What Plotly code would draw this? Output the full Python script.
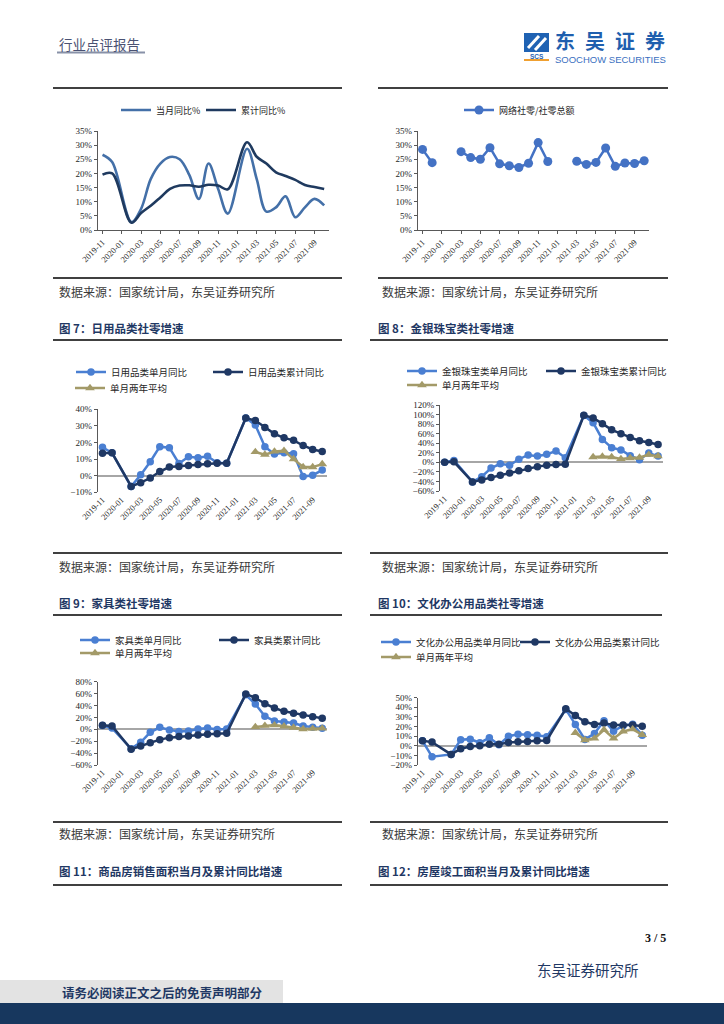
import plotly.graph_objects as go

W, H = 724, 1024

# ---------------- data ----------------
months = ['2019-11', '2019-12', '2020-01', '2020-02', '2020-03', '2020-04', '2020-05', '2020-06',
          '2020-07', '2020-08', '2020-09', '2020-10', '2020-11', '2020-12', '2021-01', '2021-02',
          '2021-03', '2021-04', '2021-05', '2021-06', '2021-07', '2021-08', '2021-09', '2021-10']
tick_months = months[::2]

online_month = [26.6, 24.0, None, 2.8, 7.5, 18.0, 23.5, 25.8, 25.0, 19.5, 11.0, 23.5,
                14.5, 5.8, None, 28.7, 18.0, 6.5, 8.0, 11.9, 4.5, 8.0, 11.0, 8.7]
online_cum = [19.6, 20.0, None, 2.6, 6.0, 8.6, 11.5, 14.5, 15.7, 15.8, 15.3, 16.0,
              15.7, 14.4, None, 31.0, 25.9, 23.5, 20.4, 19.1, 17.7, 15.9, 15.2, 14.5]

online_share = [28.5, 23.8, None, None, 27.7, 25.6, 25.0, 29.1, 23.4, 22.7, 22.1, 23.6,
                30.9, 24.2, None, None, 24.3, 23.2, 23.9, 29.0, 22.5, 23.7, 23.5, 24.5]

daily_month = [17.1, 13.8, None, -6.5, 0.5, 8.4, 17.5, 16.9, 7.4, 11.4, 10.8, 11.7,
               7.8, 7.5, None, 34.8, 30.5, 17.4, 13.0, 13.9, 13.2, -0.5, 0.3, 3.4]
daily_cum = [13.5, 13.8, None, -6.5, -4.2, -1.4, 2.5, 5.2, 5.6, 6.2, 6.8, 7.2,
             7.5, 7.5, None, 34.8, 33.2, 29.0, 25.2, 22.8, 21.3, 18.2, 15.8, 14.6]
daily_avg2 = [None] * 16 + [14.3, 12.7, 14.6, 15.0, 10.0, 5.2, 5.2, 7.0]

jewel_month = [0.0, 4.0, None, -41.0, -30.0, -12.0, -3.0, -6.0, 6.5, 15.5, 13.0, 16.7,
               23.7, 9.8, None, 98.0, 83.0, 48.0, 30.7, 25.8, 14.0, 5.6, 19.5, 13.0]
jewel_cum = [0.0, 1.0, None, -41.0, -37.0, -32.0, -27.0, -22.5, -17.4, -13.0, -9.0, -6.0,
             -4.5, -4.0, None, 98.5, 93.0, 81.0, 68.0, 60.0, 52.0, 45.0, 41.5, 37.5]
jewel_avg2 = [None] * 16 + [11.0, 12.0, 11.0, 7.0, 9.0, 10.0, 16.0, 13.0]

furn_month = [6.2, 2.0, None, -32.5, -21.8, -5.0, 3.4, -1.0, -3.5, -3.0, 0.5, 2.0,
              -0.5, 0.5, None, 58.0, 42.5, 21.8, 14.0, 12.3, 10.6, 5.6, 3.4, 1.7]
furn_cum = [6.7, 5.6, None, -33.6, -28.0, -22.4, -17.4, -14.0, -12.3, -11.2, -9.5, -8.4,
            -7.3, -6.7, None, 59.4, 53.0, 43.0, 35.8, 30.2, 26.9, 24.0, 21.3, 18.5]
furn_avg2 = [None] * 16 + [4.0, 6.0, 7.0, 5.0, 3.0, 0.5, 1.0, 1.5]

office_month = [5.2, -11.4, None, -9.0, 6.2, 6.9, 3.1, 8.3, 1.0, 10.0, 12.0, 11.5,
                11.0, 9.4, None, 37.8, 22.2, 6.6, 12.8, 26.0, 15.2, 20.8, 22.5, 11.0]
office_cum = [5.2, 3.8, None, -9.0, -3.1, -0.7, 0.0, 1.7, 1.7, 3.5, 4.2, 4.5,
              5.2, 5.5, None, 38.5, 31.5, 25.0, 22.2, 23.6, 21.5, 21.5, 21.5, 20.4]
office_avg2 = [None] * 16 + [13.5, 5.9, 7.6, 16.6, 7.6, 14.9, 17.3, 11.4]

# ---------------- styles ----------------
CJK = "Noto Sans CJK SC"
SERIF = "Liberation Serif"
LIGHT = '#4a7fd2'
DARK = '#1f3864'
KHAKI = '#a39a68'
STEEL = '#4470a8'
NAVY1 = '#1f3a5f'
AXIS = '#595959'


def X(px):
    return px / W


def Y(py):
    return 1 - py / H


fig = go.Figure()

# panel geometry: (x0, x1, ytop, ybottom, yrange, dtick, bottom_axis_line)
panels = {
    1: (97.7, 329.0, 131.0, 230.0, [0, 35], 5, True),
    2: (417.7, 649.0, 131.0, 230.0, [0, 35], 5, True),
    3: (97.7, 327.0, 409.3, 492.3, [-10, 40], 10, False),
    4: (440.0, 662.7, 405.0, 491.0, [-60, 120], 20, False),
    5: (97.7, 327.0, 681.7, 765.0, [-60, 80], 20, False),
    6: (417.7, 647.0, 697.7, 765.0, [-20, 50], 10, False),
}


def add(panel, y, name, color, legend, mode='lines+markers', symbol='circle', size=7.5,
        shape='linear', gaps=True, width=2.5):
    sfx = '' if panel == 1 else str(panel)
    fig.add_trace(go.Scatter(
        x=months, y=y, name=name, mode=mode,
        line=dict(color=color, width=width, shape=shape),
        marker=dict(color=color, size=size, symbol=symbol),
        connectgaps=gaps, xaxis='x' + sfx, yaxis='y' + sfx,
        legend=legend, hoverinfo='skip'))


add(1, online_month, '当月同比%', STEEL, 'legend', mode='lines', shape='spline', width=2.6)
add(1, online_cum, '累计同比%', NAVY1, 'legend2', mode='lines', shape='spline', width=2.6)
add(2, online_share, '网络社零/社零总额', '#4472c4', 'legend3', gaps=False, size=9)
add(3, daily_month, '日用品类单月同比', LIGHT, 'legend4')
add(3, daily_cum, '日用品类累计同比', DARK, 'legend5')
add(3, daily_avg2, '单月两年平均', KHAKI, 'legend6', symbol='triangle-up', size=8.5)
add(4, jewel_month, '金银珠宝类单月同比', LIGHT, 'legend7')
add(4, jewel_cum, '金银珠宝类累计同比', DARK, 'legend8')
add(4, jewel_avg2, '单月两年平均', KHAKI, 'legend9', symbol='triangle-up', size=8.5)
add(5, furn_month, '家具类单月同比', LIGHT, 'legend10')
add(5, furn_cum, '家具类累计同比', DARK, 'legend11')
add(5, furn_avg2, '单月两年平均', KHAKI, 'legend12', symbol='triangle-up', size=8.5)
add(6, office_month, '文化办公用品类单月同比', LIGHT, 'legend13')
add(6, office_cum, '文化办公用品类累计同比', DARK, 'legend14')
add(6, office_avg2, '单月两年平均', KHAKI, 'legend15', symbol='triangle-up', size=8.5)

layout = dict(width=W, height=H, margin=dict(l=0, r=0, t=0, b=0, pad=0, autoexpand=False),
              paper_bgcolor='white', plot_bgcolor='white', showlegend=True)

for k, (x0, x1, yt, yb, yr, dt, bline) in panels.items():
    sfx = '' if k == 1 else str(k)
    layout['xaxis' + sfx] = dict(
        domain=[X(x0), X(x1)], anchor='y' + sfx, type='category',
        categoryorder='array', categoryarray=months, range=[-0.5, 23.5],
        tickmode='array', tickvals=tick_months, ticktext=tick_months, tickangle=-45,
        tickfont=dict(family=SERIF, size=8.5, color='#262626'),
        showline=bline, linecolor=AXIS, linewidth=1,
        ticks='outside' if bline else '', ticklen=3, tickcolor=AXIS,
        showgrid=False, zeroline=False, fixedrange=True, automargin=False)
    layout['yaxis' + sfx] = dict(
        domain=[Y(yb), Y(yt)], anchor='x' + sfx, range=yr, dtick=dt, tick0=0,
        ticksuffix='%', tickfont=dict(family=SERIF, size=9, color='#262626'),
        showline=True, linecolor=AXIS, linewidth=1, ticks='outside', ticklen=3,
        tickcolor=AXIS, showgrid=False, automargin=False,
        zeroline=not bline, zerolinecolor='#a6a6a6', zerolinewidth=1.5, fixedrange=True)

# legends (x of item start, y centre)
legend_pos = {
    'legend': (116, 110), 'legend2': (201, 110), 'legend3': (459, 110),
    'legend4': (71, 372), 'legend5': (208, 372), 'legend6': (70, 388),
    'legend7': (402, 371), 'legend8': (541, 371), 'legend9': (402, 385),
    'legend10': (75, 640), 'legend11': (214, 640), 'legend12': (75, 653),
    'legend13': (376, 642), 'legend14': (515, 642), 'legend15': (376, 657),
}
for name, (lx, ly) in legend_pos.items():
    layout[name] = dict(x=X(lx), y=Y(ly), xref='paper', yref='paper', xanchor='left',
                        yanchor='middle', orientation='h', bgcolor='rgba(0,0,0,0)',
                        borderwidth=0, itemwidth=30,
                        font=dict(family=CJK, size=9.5, color='#262626'))
layout['legend']['font']['size'] = 9
layout['legend2']['font']['size'] = 9
layout['legend3']['font']['size'] = 9

fig.update_layout(**layout)

# ---------------- page furniture ----------------
shapes = []


def hline(py, x0, x1, color='#404040', width=2):
    shapes.append(dict(type='line', xref='paper', yref='paper', x0=X(x0), x1=X(x1),
                       y0=Y(py), y1=Y(py), line=dict(color=color, width=width)))


for py in (88, 278):
    hline(py, 53, 342)
    hline(py, 378, 668)
for py in (340, 553, 822, 885):
    hline(py, 53, 342)
    hline(py, 370, 668)
hline(615, 53, 342)
hline(615, 370, 662)

# header underline
hline(52.5, 57, 145, color='#8891a8', width=2)

# logo icon
shapes.append(dict(type='rect', xref='paper', yref='paper', x0=X(524), x1=X(549),
                   y0=Y(52), y1=Y(33), fillcolor='#1f62b3', line=dict(width=0)))
shapes.append(dict(type='line', xref='paper', yref='paper', x0=X(528), x1=X(539),
                   y0=Y(48), y1=Y(36), line=dict(color='white', width=3)))
shapes.append(dict(type='line', xref='paper', yref='paper', x0=X(535), x1=X(546),
                   y0=Y(50), y1=Y(38), line=dict(color='white', width=3)))
hline(60, 524, 549, color='#f0a030', width=2)

# footer blocks
shapes.append(dict(type='rect', xref='paper', yref='paper', x0=0, x1=X(283),
                   y0=Y(1003), y1=Y(980), fillcolor='#e3e3e3', line=dict(width=0)))
shapes.append(dict(type='rect', xref='paper', yref='paper', x0=0, x1=1,
                   y0=0, y1=Y(1003), fillcolor='#17375e', line=dict(width=0)))

anns = []


def text(px, py, s, size=12, color='#333333', family=CJK, anchor='left'):
    anns.append(dict(x=X(px), y=Y(py), xref='paper', yref='paper', text=s,
                     showarrow=False, xanchor=anchor, yanchor='middle',
                     font=dict(family=family, size=size, color=color)))


text(57, 44, '行业点评报告', size=13.5, color='#4a5273')
text(553, 40.5, '<b>东\u2002吴\u2002证\u2002券</b>', size=20, color='#1f5fae')
text(553, 59.5, 'SOOCHOW SECURITIES', size=9.5, color='#3a6fbf', family='Liberation Sans')
text(536.5, 56, '<b>SCS</b>', size=6.5, color='#1f62b3', family='Liberation Sans', anchor='center')

src = '数据来源：国家统计局，东吴证券研究所'
for py in (291, 566, 833):
    text(57, py, src, size=12, color='#3a3a3a')
    text(380, py, src, size=12, color='#3a3a3a')

cap_color = '#1f3864'
text(57, 328, '<b>图 7：日用品类社零增速</b>', size=11.5, color=cap_color)
text(376, 328, '<b>图 8：金银珠宝类社零增速</b>', size=11.5, color=cap_color)
text(57, 603, '<b>图 9：家具类社零增速</b>', size=11.5, color=cap_color)
text(376, 603, '<b>图 10：文化办公用品类社零增速</b>', size=11.5, color=cap_color)
text(57, 871, '<b>图 11：商品房销售面积当月及累计同比增速</b>', size=11.5, color=cap_color)
text(376, 871, '<b>图 12：房屋竣工面积当月及累计同比增速</b>', size=11.5, color=cap_color)

text(668, 938, '<b>3 / 5</b>', size=12, color='#111111', family=SERIF, anchor='right')
text(535, 969, '东吴证券研究所', size=14.5, color='#1f3864')
text(60, 992, '<b>请务必阅读正文之后的免责声明部分</b>', size=12.5, color='#1f3864')

fig.update_layout(shapes=shapes, annotations=anns)
fig.write_html("out.html", config={'displayModeBar': False},
               post_script="document.body.style.margin='0';document.body.style.overflow='hidden';")
